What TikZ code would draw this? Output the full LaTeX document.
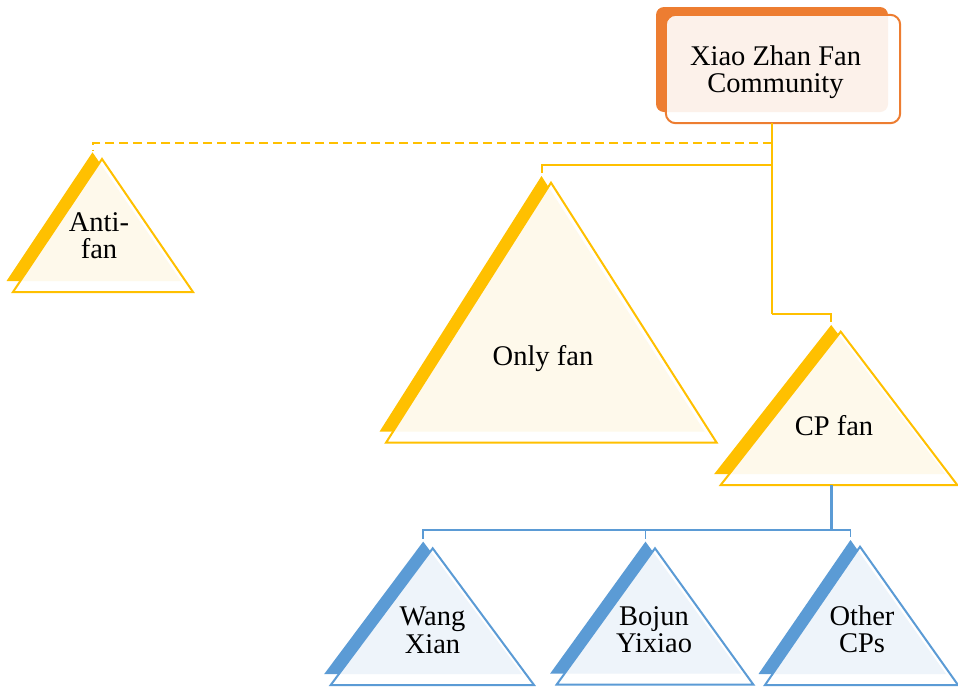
\documentclass[tikz,border=0pt]{standalone}
\usepackage{fontspec}
\setmainfont{Liberation Serif}
\usetikzlibrary{calc}

\definecolor{gold}{HTML}{FFC000}
\definecolor{cream}{HTML}{FEF9EB}
\definecolor{skyblue}{HTML}{5B9BD5}
\definecolor{paleblue}{HTML}{EEF4FA}
\definecolor{tangerine}{HTML}{ED7D31}
\definecolor{peach}{HTML}{FCF1EA}

% Layered triangle: a solid offset copy behind, an outlined white front
% triangle, and the overlap of the two tinted.
% #1 name, #2 apex x, #3 apex y, #4 base left x, #5 base right x,
% #6 base y, #7 dark colour, #8 light colour
\newcommand{\layeredtri}[8]{%
  \fill[#7] (#2-9.5,#3-6.7) -- (#4-6.5,#6-11) -- (#5-12,#6-11) -- cycle;
  \fill[white] (#2,#3) -- (#4,#6) -- (#5,#6) -- cycle;
  \begin{scope}
    \clip (#2,#3) -- (#4,#6) -- (#5,#6) -- cycle;
    \fill[#8] (#2-9.5,#3-6.7) -- (#4-6.5,#6-11) -- (#5-12,#6-11) -- cycle;
  \end{scope}
  \draw[#7, line width=2pt] (#2,#3) -- (#4,#6) -- (#5,#6) -- cycle;
  \coordinate (#1-top) at (#2-9.5,#3-6.7);
  \coordinate (#1-base) at ({(#4+#5)/2},#6);
}

\begin{document}
\begin{tikzpicture}[x=1pt, y=-1pt,
  lbl/.style={font=\fontsize{28.5}{27.5}\selectfont, align=center,
    inner sep=0pt, text=black,
    execute at begin node=\strut, execute at end node=\strut},
  yline/.style={gold, line width=2pt},
  bline/.style={skyblue, line width=1.8pt}]
\useasboundingbox (0,0) rectangle (958,686);

% ---- top box ----
\fill[tangerine, rounded corners=8pt] (656,7) rectangle (888,112);
\node[fill=white, rounded corners=10pt, minimum width=234pt,
      minimum height=108pt, inner sep=0pt] (box) at (783,69) {};
\begin{scope}
  \clip[rounded corners=10pt] (666,15) rectangle (900,123);
  \fill[peach, rounded corners=8pt] (656,7) rectangle (888,112);
\end{scope}
\draw[tangerine, line width=2pt, rounded corners=10pt]
  (box.north west) rectangle (box.south east);
\node[lbl] (boxtxt) at (775.5,73.3) {Xiao Zhan Fan\\Community};

% ---- triangles ----
\layeredtri{anti}{102}{159}{13}{193}{292}{gold}{cream}
\layeredtri{only}{551}{182.7}{386}{716.7}{442.7}{gold}{cream}
\layeredtri{cp}{840.7}{331.7}{720.7}{957.3}{485}{gold}{cream}
\layeredtri{wx}{432.7}{548.3}{330.7}{534}{685}{skyblue}{paleblue}
\layeredtri{bj}{655}{548.3}{556.7}{753.3}{684.5}{skyblue}{paleblue}
\layeredtri{oc}{860}{546.7}{765}{958}{685}{skyblue}{paleblue}

% ---- labels ----
\node[lbl] (antitxt) at (99,239.5) {Anti-\\fan};
\node[lbl] (onlytxt) at (543,359.5) {Only fan};
\node[lbl] (cptxt) at (834,429.5) {CP fan};
\node[lbl] (wxtxt) at (432.5,634.5) {Wang\\Xian};
\node[lbl] (bjtxt) at (654,633.5) {Bojun\\Yixiao};
\node[lbl] (octxt) at (862,633.2) {Other\\CPs};

% ---- yellow connectors ----
\coordinate (spine-a) at (772,143);
\coordinate (spine-o) at (772,165);
\coordinate (spine-c) at (772,314);
\draw[yline] (box.south -| spine-c) -- (spine-c);
\draw[yline, shorten >=3pt] (spine-c) -| (cp-top);
\draw[yline, shorten >=3pt] (spine-o) -| (only-top);
\draw[yline, dash pattern=on 9pt off 5pt, shorten >=1pt] (spine-a) -| (anti-top);

% ---- blue connectors ----
\coordinate (fork) at (831.5,530);
\draw[bline, line width=2.6pt] (fork |- cp-base) -- (fork);
\draw[bline, shorten >=3pt] (fork) -| (wx-top);
\draw[bline, shorten >=3pt] (fork) -| (bj-top);
\draw[bline, shorten >=3pt] (fork) -| (oc-top);
\end{tikzpicture}
\end{document}
